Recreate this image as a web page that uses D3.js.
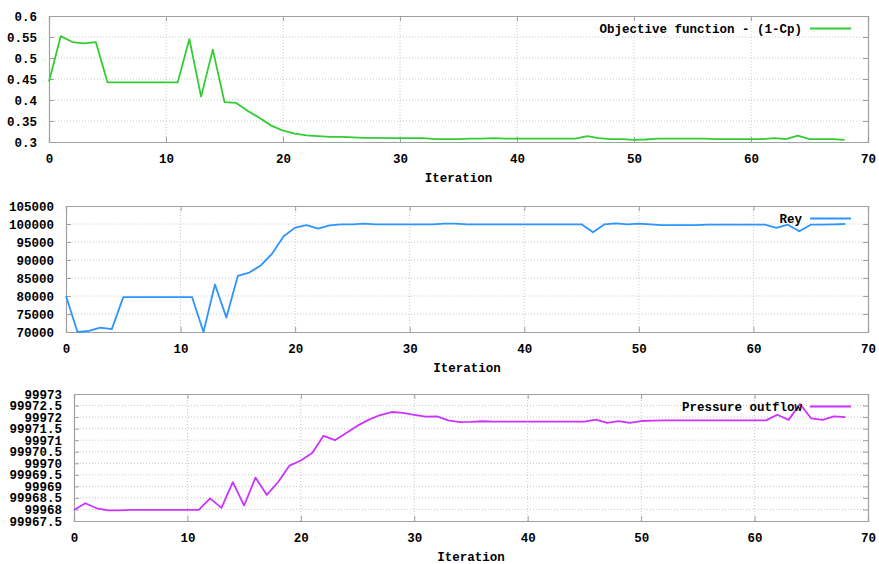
<!DOCTYPE html>
<html><head><meta charset="utf-8">
<script src="https://cdn.jsdelivr.net/npm/d3@7"></script>
<style>
body{margin:0;background:#fff;}
text{font-family:"Liberation Mono","DejaVu Sans Mono",monospace;font-weight:bold;font-size:12.5px;fill:#000;}
</style></head>
<body><svg id="c" width="879" height="564"></svg>
<script>
const iterations = d3.range(0, 69);
const objective = [0.444,0.552,0.538,0.535,0.538,0.442,0.442,0.442,0.442,0.442,0.442,0.442,0.545,0.408,0.520,0.395,0.393,0.374,0.357,0.339,0.327,0.320,0.316,0.314,0.312,0.312,0.311,0.310,0.310,0.309,0.309,0.309,0.309,0.307,0.307,0.307,0.308,0.308,0.309,0.308,0.308,0.308,0.308,0.308,0.308,0.308,0.314,0.309,0.307,0.307,0.305,0.306,0.308,0.308,0.308,0.308,0.308,0.307,0.307,0.307,0.307,0.307,0.309,0.307,0.315,0.307,0.307,0.307,0.305];
const rey = [80000,70000,70300,71200,70800,79700,79700,79700,79700,79700,79700,79700,70000,83200,74000,85600,86500,88500,91800,96600,99000,99700,98700,99600,99900,99900,100100,99900,99900,99900,99900,99900,99900,100100,100100,99900,99900,99900,99900,99900,99900,99900,99900,99900,99900,99900,97700,99900,100200,99900,100100,99900,99700,99700,99700,99700,99800,99800,99800,99800,99800,99800,98900,99800,98000,99800,99800,99900,100000];
const pressure = [99967.98,99968.27,99968.05,99967.96,99967.96,99967.98,99967.98,99967.98,99967.98,99967.98,99967.98,99967.98,99968.48,99968.07,99969.18,99968.17,99969.38,99968.63,99969.19,99969.90,99970.12,99970.44,99971.19,99971.00,99971.31,99971.63,99971.89,99972.09,99972.22,99972.18,99972.10,99972.02,99972.03,99971.86,99971.78,99971.79,99971.82,99971.80,99971.80,99971.80,99971.80,99971.80,99971.80,99971.80,99971.80,99971.80,99971.89,99971.75,99971.83,99971.75,99971.83,99971.85,99971.86,99971.86,99971.86,99971.86,99971.86,99971.86,99971.86,99971.86,99971.86,99971.86,99972.10,99971.88,99972.57,99971.94,99971.88,99972.03,99972.00];
const xTicks = [0,10,20,30,40,50,60,70];
const yTicks1 = [0.3,0.35,0.4,0.45,0.5,0.55,0.6];
const yTicks2 = [70000,75000,80000,85000,90000,95000,100000,105000];
const yTicks3 = [99967.5,99968,99968.5,99969,99969.5,99970,99970.5,99971,99971.5,99972,99972.5,99973];
const names = ["Objective function - (1-Cp)","Rey","Pressure outflow"];
const colors = ["#33cc33","#2e94ff","#cc33ff"];

const panels = [
  {vals:objective, ticks:yTicks1, dom:[0.3,0.6], l:49, r:868, t:16, b:142, fmt:d=>String(d)},
  {vals:rey, ticks:yTicks2, dom:[70000,105000], l:66, r:868, t:206, b:332, fmt:d=>String(d)},
  {vals:pressure, ticks:yTicks3, dom:[99967.5,99973], l:74, r:868, t:394, b:521, fmt:d=>String(+d.toFixed(1))}
];
const svg = d3.select("#c");
panels.forEach((p,i)=>{
  const x = d3.scaleLinear().domain([0,70]).range([p.l,p.r]);
  const y = d3.scaleLinear().domain(p.dom).range([p.b,p.t]);
  const g = svg.append("g");
  // grid
  g.selectAll(".gx").data(xTicks.slice(1,-1)).join("line")
    .attr("x1",d=>x(d)).attr("x2",d=>x(d)).attr("y1",p.t).attr("y2",p.b)
    .attr("stroke","#c8c8c8").attr("stroke-width",1).attr("stroke-dasharray","1,2");
  g.selectAll(".gy").data(p.ticks.slice(1,-1)).join("line")
    .attr("y1",d=>y(d)).attr("y2",d=>y(d)).attr("x1",p.l).attr("x2",p.r)
    .attr("stroke","#c8c8c8").attr("stroke-width",1).attr("stroke-dasharray","1,2");
  // axes
  const ax = g.append("g").attr("transform",`translate(0,${p.b})`)
    .call(d3.axisBottom(x).tickValues(xTicks).tickFormat(d3.format("d")).tickSize(-5).tickPadding(12));
  const ax2 = g.append("g").attr("transform",`translate(0,${p.t})`)
    .call(d3.axisTop(x).tickValues(xTicks).tickFormat("").tickSize(-5));
  const ay = g.append("g").attr("transform",`translate(${p.l},0)`)
    .call(d3.axisLeft(y).tickValues(p.ticks).tickFormat(p.fmt).tickSize(-5).tickPadding(12));
  const ay2 = g.append("g").attr("transform",`translate(${p.r},0)`)
    .call(d3.axisRight(y).tickValues(p.ticks).tickFormat("").tickSize(-5));
  [ax,ax2,ay,ay2].forEach(a=>{
    a.select(".domain").attr("stroke","#a0a0a0").attr("stroke-width",1.2);
    a.selectAll(".tick line").attr("stroke","#a0a0a0");
    a.selectAll("text").attr("font-family",null).attr("font-size",null).attr("fill","#000");
  });
  // axis title
  g.append("text").attr("x",(p.l+p.r)/2).attr("y",p.b+40).attr("text-anchor","middle").text("Iteration");
  // line
  const line = d3.line().x((d,j)=>x(iterations[j])).y(d=>y(d));
  g.append("path").datum(p.vals).attr("d",line).attr("fill","none")
    .attr("stroke",colors[i]).attr("stroke-width",1.8).attr("stroke-linejoin","round");
  // legend
  const ly = p.t + 12.5;
  g.append("text").attr("x",802).attr("y",ly).attr("dy","0.35em").attr("text-anchor","end").text(names[i]);
  g.append("line").attr("x1",810).attr("x2",851).attr("y1",ly).attr("y2",ly)
    .attr("stroke",colors[i]).attr("stroke-width",1.8);
});
</script></body></html>
